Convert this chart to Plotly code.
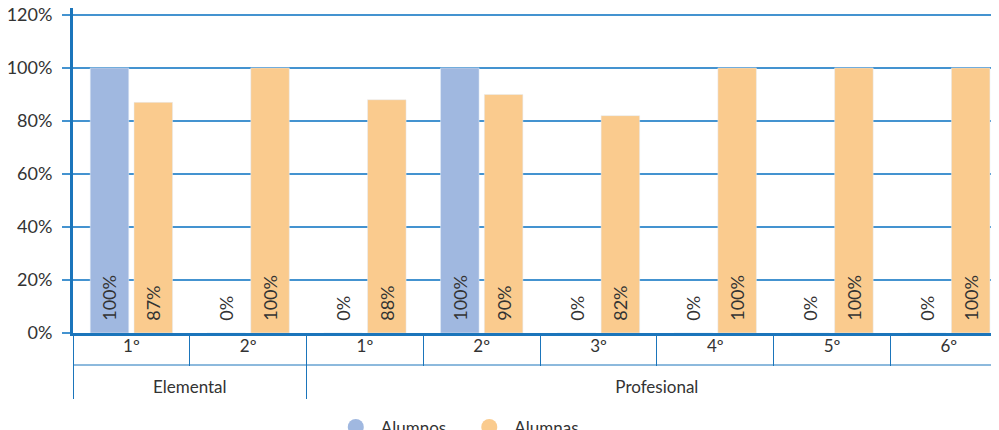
import plotly.graph_objects as go

# Datos: porcentaje por curso
niveles = ["Elemental", "Elemental", "Profesional", "Profesional",
           "Profesional", "Profesional", "Profesional", "Profesional"]
cursos = ["1º", "2º", "1º", "2º", "3º", "4º", "5º", "6º"]
alumnos = [100, 0, 0, 100, 0, 0, 0, 0]
alumnas = [87, 100, 88, 90, 82, 100, 100, 100]
y_ticks = [0, 20, 40, 60, 80, 100, 120]

AZUL = "#A0B8E0"
NARANJA = "#FACB8E"
LINEA = "#1B75BB"
GRID = "#4493D0"
TEXTO = "#333333"
FUENTE = "Lato"
SPAN = "<span style='font-size:17px'>{}</span>"
# línea extra casi invisible para separar las dos filas de etiquetas
RELLENO = "<br><span style='font-size:1px;color:white'>.</span>"


def etiquetas(vals):
    return ["\u00a0\u00a0" + f"{v}%" for v in vals]


def posiciones(vals):
    return ["outside" if v == 0 else "inside" for v in vals]


x_nivel = ["<br>" + SPAN.format(n) for n in niveles]
x_curso = [SPAN.format(c) + RELLENO for c in cursos]

fig = go.Figure()

for nombre, vals, color in [("Alumnos", alumnos, AZUL), ("Alumnas", alumnas, NARANJA)]:
    fig.add_trace(go.Bar(
        x=[x_nivel, x_curso], y=vals, name=nombre, marker_color=color,
        text=etiquetas(vals), textposition=posiciones(vals), textangle=-90,
        insidetextanchor="start", cliponaxis=False,
        textfont=dict(family=FUENTE, size=18, color=TEXTO),
        outsidetextfont=dict(family=FUENTE, size=18, color=TEXTO),
        showlegend=False,
    ))
    # Marcador circular para la leyenda
    fig.add_trace(go.Scatter(
        x=[None], y=[None], mode="markers", name=nombre + "\u00a0\u00a0\u00a0",
        marker=dict(symbol="circle", size=19, color=color),
    ))

# La página añade 8 px de margen al cuerpo: figura de 991x422
fig.update_layout(
    width=991, height=422,
    margin=dict(l=65, r=0, t=0, b=97, autoexpand=False),
    plot_bgcolor="white", paper_bgcolor="white",
    barmode="group", bargap=0.25, bargroupgap=0.12,
    font=dict(family=FUENTE, size=17, color=TEXTO),
    legend=dict(orientation="h", x=0.422, xanchor="center", y=-0.235, yanchor="top",
                font=dict(family=FUENTE, size=17, color=TEXTO), itemwidth=40),
)

fig.update_xaxes(
    type="multicategory", range=[-0.5, 7.43], automargin=False,
    showline=True, linecolor=LINEA, linewidth=3,
    ticks="outside", ticklen=30, tickcolor=LINEA, tickwidth=1,
    showdividers=True, dividercolor=LINEA, dividerwidth=1,
    showgrid=False, ticklabelstandoff=4,
    tickfont=dict(family=FUENTE, size=10, color=TEXTO),
)
fig.update_yaxes(
    range=[0, 122.6], tickvals=y_ticks, ticktext=[f"{v}%" for v in y_ticks],
    automargin=False, ticklabeloverflow="allow",
    showline=True, linecolor=LINEA, linewidth=3,
    ticks="outside", ticklen=8, tickcolor=GRID, tickwidth=1.5,
    showgrid=True, gridcolor=GRID, gridwidth=1.5, zeroline=False,
    ticklabelstandoff=6,
    tickfont=dict(family=FUENTE, size=18, color=TEXTO),
)

# Línea horizontal bajo la primera fila de etiquetas
fig.add_shape(type="line", xref="paper", yref="paper",
              x0=0, x1=1, y0=-32 / 325, y1=-32 / 325,
              line=dict(color=LINEA, width=1))

fig.write_html("out.html")
